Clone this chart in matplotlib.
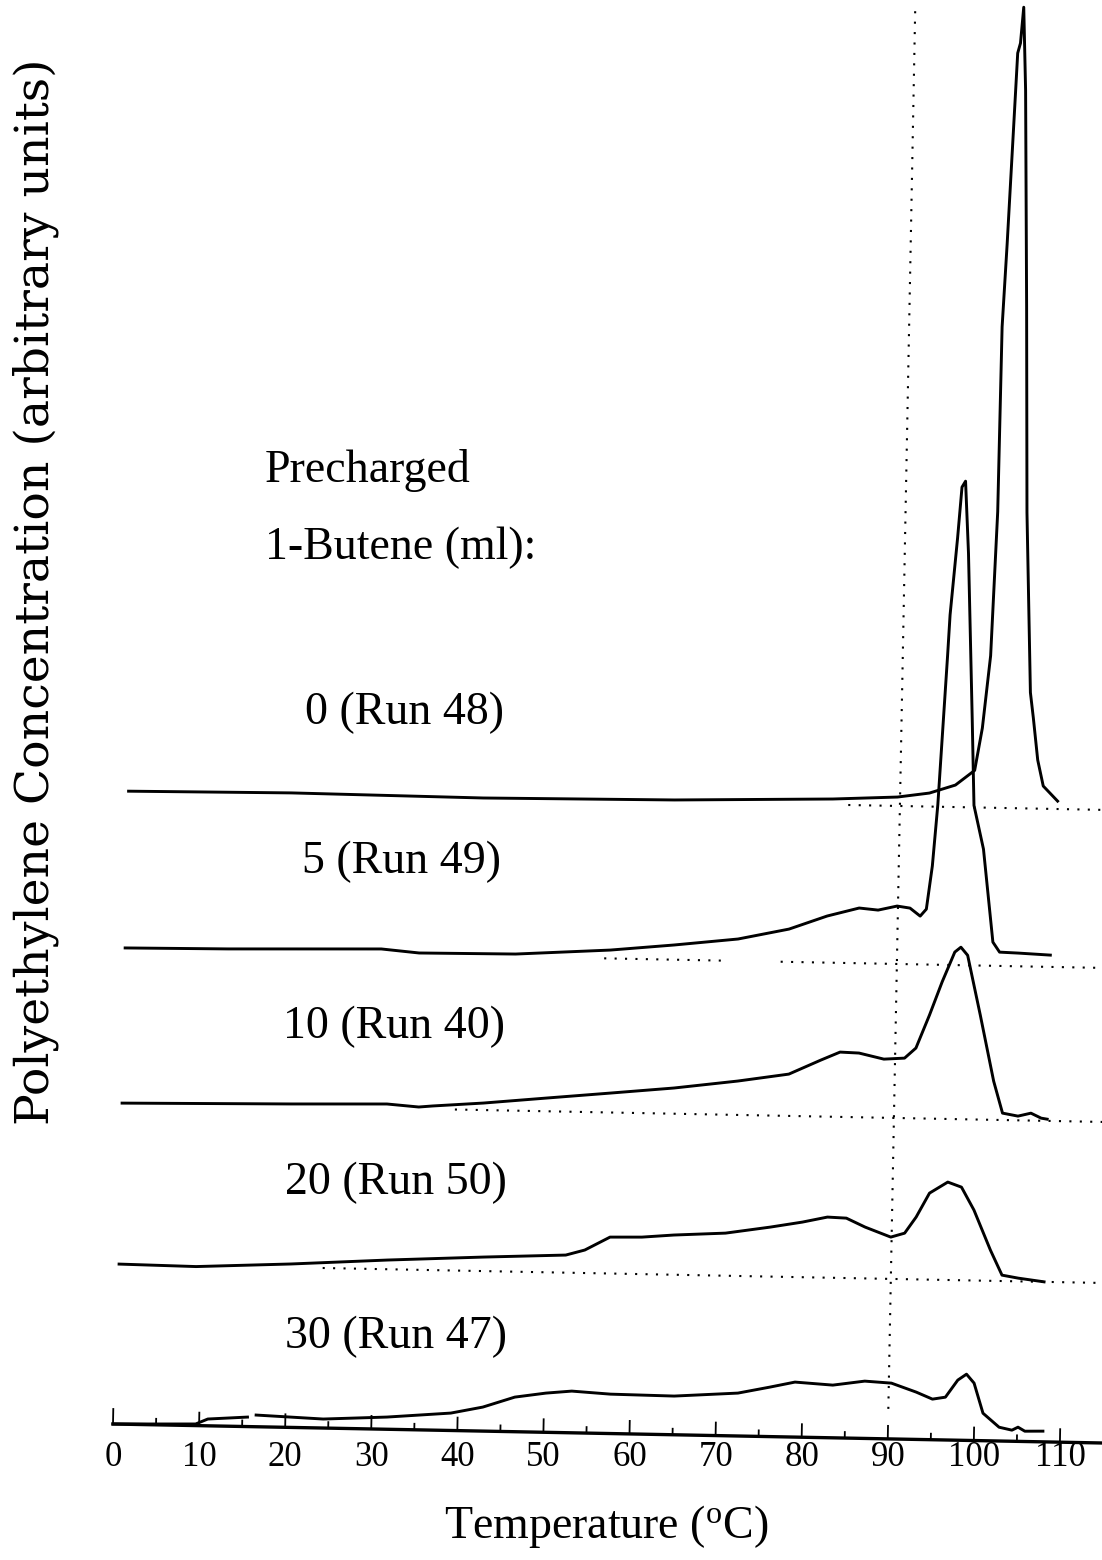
import matplotlib
matplotlib.use("Agg")
import matplotlib.pyplot as plt
import matplotlib.transforms as mtransforms
import numpy as np

plt.rcParams['font.family'] = 'Liberation Serif'
plt.rcParams['mathtext.fontset'] = 'custom'
plt.rcParams['mathtext.rm'] = 'Liberation Serif'

nan = np.nan

# elution temperature (C) and signal above each trace's own baseline
t_48 = [0.4, 19.3, 41.6, 63.8, 82.2, 89.7, 93.4, 96.4, 98.6, 99.4, 100.2, 100.7, 100.8, 101.2,
        101.7, 102.0, 102.3, 102.6, 103.0, 103.6, 104.1, 104.9, 105.3, 105.9, 106.6, 108.3]
c_48 = [0.0, 0.14, 0.0, 0.17, 0.57, 0.89, 1.35, 2.2, 3.7, 7.95, 15.2, 29.6, 48.1, 56.4,
        68.3, 75.5, 76.5, 80.1, 71.8, 50.2, 29.6, 11.6, 9.05, 4.86, 2.27, 0.79]

t_49 = [0.35, 12.3, 30.1, 34.5, 45.7, 56.7, 64.1, 71.5, 77.4, 81.8, 85.5, 87.7, 89.9, 91.4, 92.6,
        93.3, 93.9, 94.4, 95.2, 95.4, 96.1, 96.5, 96.9, 97.4, 98.2, 98.6, 99.8, 101.1, 101.9,
        104.1, 107.8]
c_49 = [0.12, 0.22, 0.51, 0.18, 0.26, 0.84, 1.47, 2.19, 3.28, 4.66, 5.52, 5.35, 5.79, 5.61, 4.83,
        5.54, 9.86, 16.0, 30.9, 35.0, 42.7, 47.8, 48.4, 41.2, 24.7, 16.0, 11.65, 2.37, 1.38,
        1.32, 1.18]

t_40 = [0.34, 20.0, 31.1, 34.8, 36.4, 42.3, 49.6, 57.0, 64.4, 71.8, 77.7, 81.4, 83.6, 85.8, 88.7,
        91.1, 92.4, 93.9, 95.3, 96.7, 97.4, 98.2, 99.8, 101.5, 102.6, 104.4, 105.9, 107.1, 107.8]
c_40 = [0.0, 0.24, 0.42, 0.18, 0.31, 0.7, 1.32, 1.94, 2.57, 3.39, 4.18, 5.65, 6.48, 6.42, 5.86,
        6.0, 7.03, 10.35, 13.7, 16.7, 17.2, 16.4, 10.45, 3.87, 0.69, 0.42, 0.74, 0.26, 0.17]

t_50 = [0.35, 9.3, 20.3, 31.5, 42.6, 52.2, 54.4, 57.3, 61.0, 64.7, 70.7, 75.9, 79.6, 82.5, 84.7,
        86.9, 89.9, 91.5, 92.8, 94.3, 96.4, 98.0, 99.5, 101.5, 102.9, 104.8, 107.8]
c_50 = [0.0, -0.1, 0.34, 0.92, 1.4, 1.76, 2.3, 3.64, 3.7, 3.97, 4.26, 4.95, 5.51, 6.06, 5.99,
        5.13, 4.18, 4.6, 6.23, 8.65, 9.79, 9.31, 7.04, 3.07, 0.59, 0.32, 0.0]

t_47 = [0.0, 9.6, 11.0, 15.6, nan, 16.6, 24.4, 31.8, 39.2, 42.9, 46.6, 50.2, 53.2, 57.7, 65.1,
        72.5, 76.2, 79.1, 83.5, 87.2, 90.3, 93.2, 95.1, 96.6, 98.0, 99.0, 99.9, 101.0, 102.9,
        104.4, 105.1, 105.9, 108.0]
c_47 = [0.0, 0.16, 0.68, 0.95, nan, 1.17, 0.9, 1.22, 1.74, 2.4, 3.46, 3.92, 4.17, 3.94, 3.87,
        4.29, 4.95, 5.5, 5.27, 5.73, 5.58, 4.73, 4.06, 4.28, 6.01, 6.62, 5.74, 2.75, 1.38,
        1.11, 1.42, 1.03, 1.07]

runs = [(t_48, c_48), (t_49, c_49), (t_40, c_40), (t_50, c_50), (t_47, c_47)]
offsets = [63.3, 47.5, 32.1, 16.0, 0.0]
run_labels = ["0 (Run 48)", "5 (Run 49)", "10 (Run 40)", "20 (Run 50)", "30 (Run 47)"]
# dotted zero lines drawn to the right of each trace
zero_lines = [[(84, 116)], [(56, 70.5), (76.5, 116)], [(39, 116)], [(24, 116)], []]
x_ticks = list(range(0, 111, 10))

W, H = 1102, 1560
fig = plt.figure(figsize=(W / 100, H / 100), dpi=100)
ax = fig.add_axes([0, 0, 1, 1])
ax.set_xlim(-113 / 8.61, (W - 113) / 8.61)
ax.set_ylim(-13.6, 142.4)
ax.set_autoscale_on(False)
ax.axis("off")

# the whole plot sits a little crooked on the page
x0, y0 = ax.transData.transform((0, 0))
tilt = ax.transData + mtransforms.Affine2D().rotate_deg_around(x0, y0, -1.1)

for (t, c), off, segs in zip(runs, offsets, zero_lines):
    ax.plot(t, np.array(c) + off, color="black", lw=2.1, transform=tilt,
            solid_joinstyle="round")
    for a, b in segs:
        ax.plot([a, b], [off, off], color="black", lw=1.5, ls=(0, (1, 4)), transform=tilt)

# vertical guide at 90 C
ax.plot([90, 90], [3, 143], color="black", lw=1.5, ls=(0, (1, 4)), transform=tilt)

# temperature axis with ticks pointing up
ax.plot([0, 117], [0, 0], color="black", lw=2.4, transform=tilt)
for t in range(0, 111, 5):
    if t == 0:
        tl = 1.5
    elif t % 10 == 0:
        tl = 1.3
    else:
        tl = 0.6
    ax.plot([t, t], [0, tl], color="black", lw=1.3, transform=tilt)

for t in x_ticks:
    fig.text((113 + 8.61 * t) / W, 1 - 1457 / H, str(t), ha="center", va="center", fontsize=25)

fig.text(606 / W, 1 - 1527 / H, r"Temperature ($\mathrm{^{o}}$C)", ha="center", va="center",
         fontsize=33)
fig.text(36 / W, 1 - 592 / H, "Polyethylene Concentration (arbitrary units)", rotation=90,
         ha="center", va="center", fontsize=34, family="DejaVu Serif")

fig.text(265 / W, 1 - 470 / H, "Precharged", ha="left", va="center", fontsize=33)
fig.text(265 / W, 1 - 548 / H, "1-Butene (ml):", ha="left", va="center", fontsize=33)
label_pos = [(305, 713), (302, 862), (283, 1027), (285, 1183), (285, 1337)]
for lab, (lx, ly) in zip(run_labels, label_pos):
    fig.text(lx / W, 1 - ly / H, lab, ha="left", va="center", fontsize=33)

fig.savefig("out.png", dpi=100)
